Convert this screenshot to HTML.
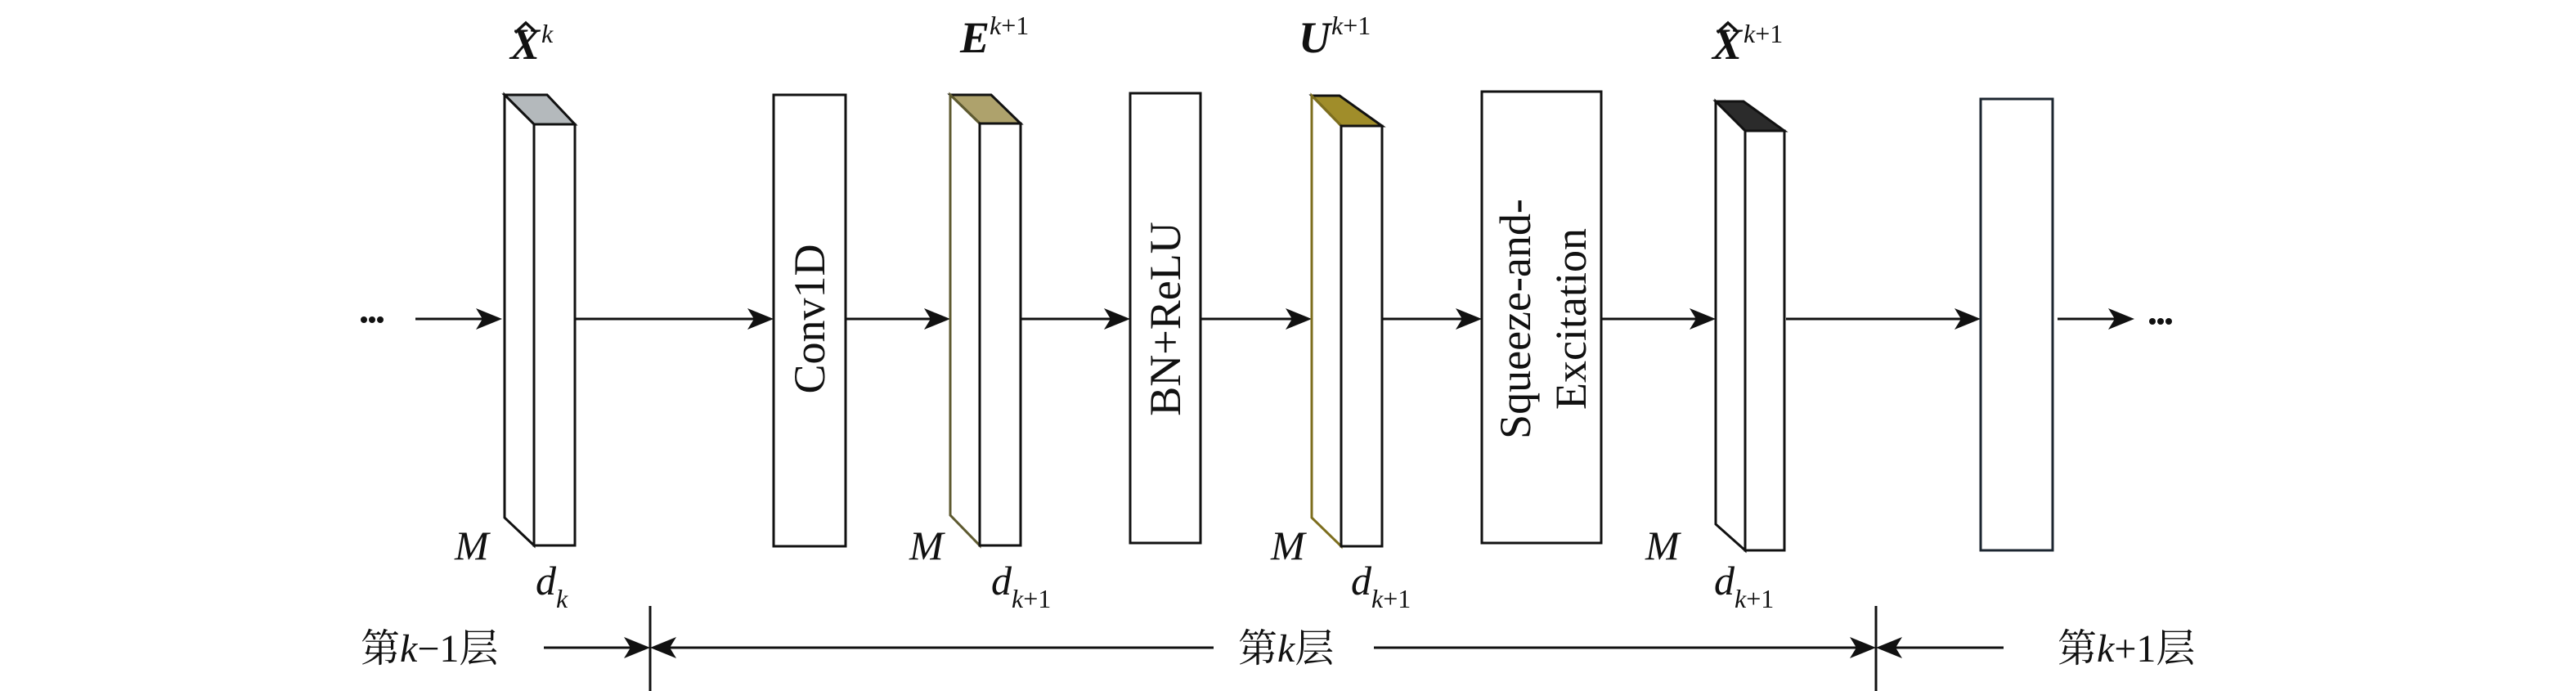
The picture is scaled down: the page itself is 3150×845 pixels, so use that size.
<!DOCTYPE html>
<html><head><meta charset="utf-8"><style>html,body{margin:0;padding:0;background:#fff}svg{display:block}text,tspan{font-family:"Liberation Serif","Noto Serif CJK SC",serif}</style></head>
<body>
<svg width="3150" height="845" viewBox="0 0 3150 845" xmlns="http://www.w3.org/2000/svg">
<rect width="3150" height="845" fill="#fff"/>
<g stroke="#111" stroke-width="3" fill="none">
<line x1="508" y1="390" x2="600" y2="390"/>
<line x1="703" y1="390" x2="934" y2="390"/>
<line x1="1034" y1="390" x2="1150" y2="390"/>
<line x1="1248" y1="390" x2="1370" y2="390"/>
<line x1="1468" y1="390" x2="1592" y2="390"/>
<line x1="1690" y1="390" x2="1800" y2="390"/>
<line x1="1958" y1="390" x2="2086" y2="390"/>
<line x1="2184" y1="390" x2="2410" y2="390"/>
<line x1="2516" y1="390" x2="2598" y2="390"/>
<line x1="665" y1="792" x2="785" y2="792"/>
<line x1="805" y1="792" x2="1484" y2="792"/>
<line x1="1680" y1="792" x2="2284" y2="792"/>
<line x1="2304" y1="792" x2="2450" y2="792"/>
<line x1="795" y1="741" x2="795" y2="845"/>
<line x1="2294" y1="741" x2="2294" y2="845"/>
</g>
<g fill="#111">
<polygon points="614,390 582,377 590,390 582,403"/>
<polygon points="946,390 914,377 922,390 914,403"/>
<polygon points="1162,390 1130,377 1138,390 1130,403"/>
<polygon points="1382,390 1350,377 1358,390 1350,403"/>
<polygon points="1604,390 1572,377 1580,390 1572,403"/>
<polygon points="1812,390 1780,377 1788,390 1780,403"/>
<polygon points="2098,390 2066,377 2074,390 2066,403"/>
<polygon points="2422,390 2390,377 2398,390 2390,403"/>
<polygon points="2610,390 2578,377 2586,390 2578,403"/>
<polygon points="795,792 763,779 771,792 763,805"/>
<polygon points="795,792 827,779 819,792 827,805"/>
<polygon points="2294,792 2262,779 2270,792 2262,805"/>
<polygon points="2294,792 2326,779 2318,792 2326,805"/>
<circle cx="445" cy="391" r="4"/><circle cx="455" cy="391" r="4"/><circle cx="465" cy="391" r="4"/>
<circle cx="2632" cy="393" r="4"/><circle cx="2642" cy="393" r="4"/><circle cx="2652" cy="393" r="4"/>
</g>
<g stroke="#111" stroke-width="3">
<polygon points="617,116 669,116 703,152 653,152" fill="#b4b9bc"/>
<polygon points="617,116 653,152 653,667 617,633" fill="#fff"/>
<rect x="653" y="152" width="50" height="515" fill="#fff"/>
</g>
<rect x="946" y="116" width="88" height="552" fill="#fff" stroke="#111" stroke-width="3"/>
<text transform="translate(990,390) rotate(-90)" text-anchor="middle" dominant-baseline="central" font-size="54" fill="#111">Conv1D</text>
<g stroke="#111" stroke-width="3">
<polygon points="1162,116 1212,116 1248,151 1198,151" fill="#aea26c"/>
<polygon points="1162,116 1198,151 1198,667 1162,630" fill="#fff" stroke="#5e5a30"/>
<rect x="1198" y="151" width="50" height="516" fill="#fff"/>
</g>
<rect x="1382" y="114" width="86" height="550" fill="#fff" stroke="#111" stroke-width="3"/>
<text transform="translate(1425,390) rotate(-90)" text-anchor="middle" dominant-baseline="central" font-size="54" fill="#111">BN+ReLU</text>
<g stroke="#111" stroke-width="3">
<polygon points="1604,117 1638,117 1690,154 1640,154" fill="#a08d2a"/>
<polygon points="1604,117 1640,154 1640,668 1604,633" fill="#fff" stroke="#7d6e1e"/>
<rect x="1640" y="154" width="50" height="514" fill="#fff"/>
</g>
<rect x="1812" y="112" width="146" height="552" fill="#fff" stroke="#111" stroke-width="3"/>
<text transform="translate(1853,390) rotate(-90)" text-anchor="middle" dominant-baseline="central" font-size="54" fill="#111">Squeeze-and-</text>
<text transform="translate(1921,390) rotate(-90)" text-anchor="middle" dominant-baseline="central" font-size="54" fill="#111">Excitation</text>
<g stroke="#111" stroke-width="3">
<polygon points="2098,124 2132,124 2182,160 2134,160" fill="#2b2b2b"/>
<polygon points="2098,124 2134,160 2134,673 2098,641" fill="#fff"/>
<rect x="2134" y="160" width="48" height="513" fill="#fff"/>
</g>
<rect x="2422" y="121" width="88" height="552" fill="#fff" stroke="#1c2630" stroke-width="3"/>
<g fill="#111">
<text x="624" y="72" font-size="54" font-style="italic" font-weight="bold">X</text>
<polyline points="630,40 643,28 656,40" fill="none" stroke="#111" stroke-width="3.5"/>
<text x="662" y="52" font-size="32" font-style="italic">k</text>
<text x="1174" y="64" font-size="54" font-style="italic" font-weight="bold">E</text>
<text x="1210" y="42" font-size="32"><tspan font-style="italic">k</tspan>+1</text>
<text x="1588" y="64" font-size="54" font-style="italic" font-weight="bold">U</text>
<text x="1628" y="42" font-size="32"><tspan font-style="italic">k</tspan>+1</text>
<text x="2094" y="72" font-size="54" font-style="italic" font-weight="bold">X</text>
<polyline points="2100,40 2113,28 2126,40" fill="none" stroke="#111" stroke-width="3.5"/>
<text x="2132" y="52" font-size="32"><tspan font-style="italic">k</tspan>+1</text>
<g font-size="50" font-style="italic">
<text x="556" y="684">M</text>
<text x="1112" y="684">M</text>
<text x="1554" y="684">M</text>
<text x="2012" y="684">M</text>
<text x="655" y="727">d</text>
<text x="1212" y="727">d</text>
<text x="1652" y="727">d</text>
<text x="2096" y="727">d</text>
</g>
<text x="680" y="743" font-size="32" font-style="italic">k</text>
<text x="1237" y="743" font-size="32"><tspan font-style="italic">k</tspan>+1</text>
<text x="1677" y="743" font-size="32"><tspan font-style="italic">k</tspan>+1</text>
<text x="2121" y="743" font-size="32"><tspan font-style="italic">k</tspan>+1</text>
<g font-size="48">
<text x="441" y="809">第<tspan font-style="italic">k</tspan>−1层</text>
<text x="1514" y="809">第<tspan font-style="italic">k</tspan>层</text>
<text x="2516" y="809">第<tspan font-style="italic">k</tspan>+1层</text>
</g>
</g>
</svg>
</body></html>
